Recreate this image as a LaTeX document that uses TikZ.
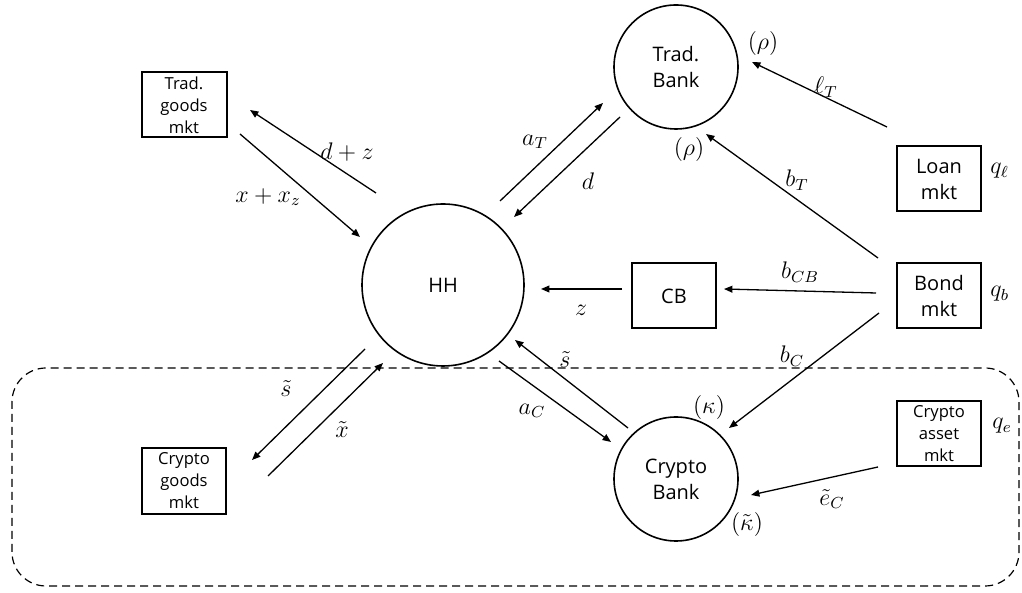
\documentclass[tikz,border=0pt]{standalone}
\usepackage{fontspec}
\usepackage{amsmath,amssymb}
\setmainfont{Open Sans}
\usetikzlibrary{arrows.meta,positioning}

\tikzset{
	agent/.style={circle, draw, line width=0.8pt, align=center, font=\fontsize{10}{13}\selectfont},
	mkt/.style={rectangle, draw, line width=1pt, align=center, inner sep=0pt, font=\fontsize{10}{13}\selectfont},
	smallmkt/.style={mkt, font=\fontsize{8.3}{11}\selectfont},
	flow/.style={-{Triangle[length=4.2pt,width=3.4pt]}, line width=0.65pt},
	lab/.style={inner sep=0pt, font=\fontsize{11.5}{13}\selectfont},
}

\begin{document}
\begin{tikzpicture}[x=0.5pt,y=0.5pt]
	\useasboundingbox (0,0) rectangle (1022,593);
	% crypto side
	\draw[dash pattern=on 4pt off 2.5pt, line width=0.6pt, rounded corners=17pt] (12,7) rectangle (1019,225);

	% agents
	\node[agent, minimum size=81pt] (hh) at (443,308) {HH};
	\node[agent, minimum size=62pt] (tradbank) at (676,526) {Trad.\\Bank};
	\node[agent, minimum size=62pt] (cryptobank) at (676,114) {Crypto\\Bank};

	% markets
	\node[smallmkt, minimum width=42.5pt, minimum height=32.5pt] (tradgoods) at (184,488) {Trad.\\goods\\mkt};
	\node[smallmkt, minimum width=42pt, minimum height=33pt] (cryptogoods) at (184,112) {Crypto\\goods\\mkt};
	\node[smallmkt, minimum width=42pt, minimum height=32.5pt] (cryptoasset) at (939,159) {Crypto\\asset\\mkt};
	\node[mkt, minimum width=42pt, minimum height=32.5pt] (loan) at (939,414) {Loan\\mkt};
	\node[mkt, minimum width=42pt, minimum height=32.5pt] (bond) at (939,297) {Bond\\mkt};
	\node[mkt, minimum width=42pt, minimum height=32.5pt] (cb) at (674,297) {CB};

	% prices
	\node[lab, right=4pt of loan.east, yshift=4pt] (ql) {$q_\ell$};
	\node[lab, right=4pt of bond.east, yshift=1pt] (qb) {$q_b$};
	\node[lab, right=5pt of cryptoasset.east, yshift=4pt] (qe) {$q_e$};

	% arrow ends
	\coordinate (dz-a) at (376,400);  \coordinate (dz-b) at (250,483);
	\coordinate (xz-a) at (240,459);  \coordinate (xz-b) at (360,356);
	\coordinate (aT-a) at (500,392);  \coordinate (aT-b) at (603,490);
	\coordinate (d-a) at (620,476);   \coordinate (d-b) at (514,376);
	\coordinate (lT-a) at (887,466);  \coordinate (lT-b) at (752,531);
	\coordinate (bT-a) at (878,335);  \coordinate (bT-b) at (706,459);
	\coordinate (bCB-a) at (876,300); \coordinate (bCB-b) at (724,304);
	\coordinate (z-a) at (622,304);   \coordinate (z-b) at (541,304);
	\coordinate (bC-a) at (879,280);  \coordinate (bC-b) at (729,165);
	\coordinate (aC-a) at (499,232);  \coordinate (aC-b) at (611,151);
	\coordinate (sR-a) at (628,165);  \coordinate (sR-b) at (515,253);
	\coordinate (eC-a) at (878,126);  \coordinate (eC-b) at (751,98);
	\coordinate (sL-a) at (365,244);  \coordinate (sL-b) at (252,133);
	\coordinate (xt-a) at (268,117);  \coordinate (xt-b) at (383,230);

	% flows
	\draw[flow] (dz-a) -- (dz-b);
	\draw[flow] (xz-a) -- (xz-b);
	\draw[flow] (aT-a) -- (aT-b);
	\draw[flow] (d-a) -- (d-b);
	\draw[flow] (lT-a) -- (lT-b);
	\draw[flow] (bT-a) -- (bT-b);
	\draw[flow] (bCB-a) -- (bCB-b);
	\draw[flow] (z-a) -- (z-b);
	\draw[flow] (bC-a) -- (bC-b);
	\draw[flow] (aC-a) -- (aC-b);
	\draw[flow] (sR-a) -- (sR-b);
	\draw[flow] (eC-a) -- (eC-b);
	\draw[flow] (sL-a) -- (sL-b);
	\draw[flow] (xt-a) -- (xt-b);

	% flow labels
	\node[lab] (l-dz) at (347,441) {$d+z$};
	\node[lab] (l-xz) at (268,396) {$x+x_z$};
	\node[lab] (l-aT) at (535,451) {$a_T$};
	\node[lab] (l-d) at (588,412) {$d$};
	\node[lab] (l-lT) at (826,506) {$\ell_T$};
	\node[lab] (l-bT) at (797,413) {$b_T$};
	\node[lab] (l-bCB) at (800,321) {$b_{CB}$};
	\node[lab] (l-z) at (581,283) {$z$};
	\node[lab] (l-bC) at (792,237) {$b_C$};
	\node[lab] (l-aC) at (532,182) {$a_C$};
	\node[lab] (l-sR) at (565,233) {$\tilde{s}$};
	\node[lab] (l-eC) at (832,94) {$\tilde{e}_C$};
	\node[lab] (l-sL) at (286,204) {$\tilde{s}$};
	\node[lab] (l-xt) at (342,163) {$\tilde{x}$};

	% rates
	\node[lab] (rho1) at (763,549) {$(\rho)$};
	\node[lab] (rho2) at (689,443) {$(\rho)$};
	\node[lab] (kap1) at (709,185) {$(\kappa)$};
	\node[lab] (kap2) at (747,68) {$(\tilde{\kappa})$};
\end{tikzpicture}
\end{document}
